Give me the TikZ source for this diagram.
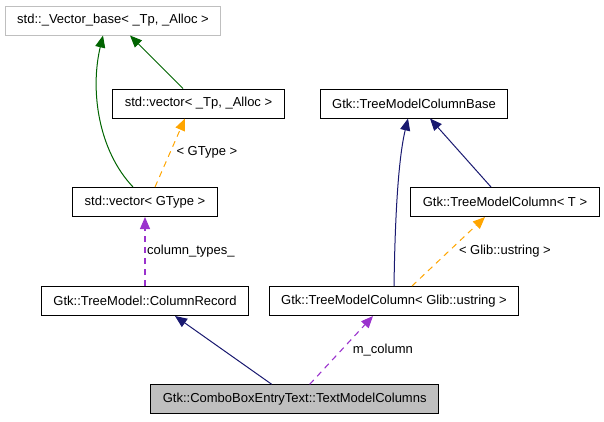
\documentclass[tikz,border=0pt]{standalone}
\usepackage{fontspec}
\setmainfont{Liberation Sans}
\usepackage{tikz}
\usetikzlibrary{
  positioning,
  arrows.meta,
  arrows
}
\definecolor{inhgreen}{HTML}{006400}
\definecolor{inhblue}{HTML}{191970}
\definecolor{tmplorange}{HTML}{FFA500}
\definecolor{usepurple}{HTML}{9A32CD}
\definecolor{boxgray}{HTML}{BFBFBF}

\begin{document}
\begin{tikzpicture}[x=1pt,y=-1pt,>={Triangle[length=12pt,width=10pt]},
    font=\fontsize{13}{15}\selectfont,
    cls/.style={draw=black,line width=1pt,inner xsep=12pt,inner ysep=0pt,minimum height=29pt},
    inh/.style={->,line width=1pt},
    tmpl/.style={->,line width=1pt,tmplorange,dash pattern=on 6pt off 5pt},
    usage/.style={->,line width=1.1pt,usepurple,dash pattern=on 6pt off 5pt},
    lbl/.style={text=black,inner sep=1pt}]
            \useasboundingbox (0,0) rectangle (604,421);

            \node[cls,draw=boxgray] (vbase) at (113,20.5) {std::\_Vector\_base< \_Tp, \_Alloc >};
            \node[cls] (vtp) at (198.5,103.5) {std::vector< \_Tp, \_Alloc >};
            \node[cls] (vgt) at (145,202) {std::vector< GType >};
            \node[cls] (colrec) at (145,301) {Gtk::TreeModel::ColumnRecord};
            \node[cls] (tmcbase) at (414,103.5) {Gtk::TreeModelColumnBase};
            \node[cls] (tmct) at (505,202) {Gtk::TreeModelColumn< T >};
            \node[cls] (tmcglib) at (394,301) {Gtk::TreeModelColumn< Glib::ustring >};
            \node[cls,fill=boxgray] (tmcols) at (294.7,399.3) {Gtk::ComboBoxEntryText::TextModelColumns};

            \draw[inh,inhgreen] ([xshift=-15.5pt]vtp.north) -- ([xshift=17pt]vbase.south);
            \draw[inh,inhgreen] ([xshift=-12pt]vgt.north) .. controls (98,150) and (90,90) .. ([xshift=-10pt]vbase.south);
            \draw[tmpl] ([xshift=10pt]vgt.north) -- ([xshift=-13.5pt]vtp.south) node[lbl,midway,right=5pt] (lgtype) {< GType >};
            \draw[usage] (colrec.north) -- (vgt.south) coordinate[midway] (mcoltypes);
            \node[lbl,right=1pt of mcoltypes] (lcoltypes) {column\_types\_};

            \draw[inh,inhblue] (tmcglib.north) .. controls (395,220) and (398,160) .. ([xshift=-6pt]tmcbase.south);
            \draw[inh,inhblue] ([xshift=-14pt]tmct.north) -- ([xshift=16pt]tmcbase.south);
            \draw[tmpl] ([xshift=18pt]tmcglib.north) -- ([xshift=-20pt]tmct.south) node[lbl,midway,right=9pt] (lglib) {< Glib::ustring >};

            \draw[inh,inhblue] ([xshift=-23pt]tmcols.north) -- ([xshift=30pt]colrec.south);
            \draw[usage] ([xshift=15pt]tmcols.north) -- ([xshift=-21pt]tmcglib.south) node[lbl,midway,right=10pt] (lmcol) {m\_column};
        \end{tikzpicture}
\end{document}
